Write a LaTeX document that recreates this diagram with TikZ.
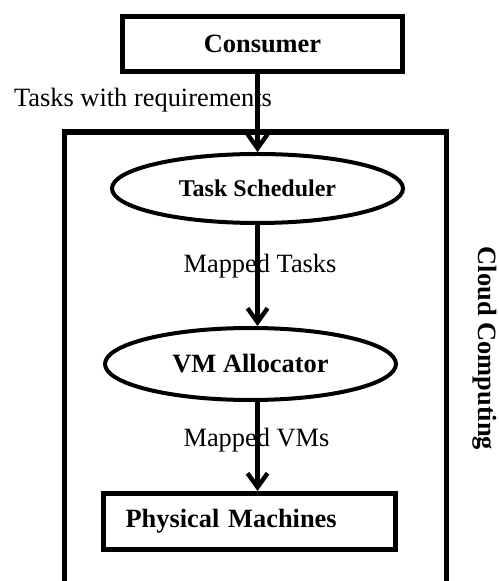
\documentclass[tikz,border=0pt]{standalone}
\usepackage{fontspec}
\setmainfont{Liberation Serif}
\usetikzlibrary{shapes.geometric,arrows.meta}

\begin{document}
\begin{tikzpicture}[x=0.5pt, y=-0.5pt,
  font=\fontsize{13.2}{15}\selectfont,
  box/.style={rectangle, draw, line width=2.5pt, font=\fontsize{13.2}{15}\selectfont\bfseries},
  oval/.style={ellipse, draw, line width=2pt, inner sep=0pt, font=\fontsize{13.2}{15}\selectfont\bfseries},
  flow/.style={-{Straight Barb[length=7pt,width=10pt]}, line width=2.2pt}]
  \useasboundingbox (0,0) rectangle (498,581);

  % Frame
  \draw[line width=2.7pt] (64.5,590) -- (64.5,132) -- (446.5,132) -- (446.5,590);

  % Nodes
  \node[box, minimum width=140pt, minimum height=27.5pt] (consumer) at (262.5,44) {Consumer};
  \node[oval, minimum width=145.5pt, minimum height=34.5pt, font=\fontsize{12}{14}\selectfont\bfseries] (sched) at (257.5,188.5) {Task Scheduler};
  \node[oval, minimum width=145.5pt, minimum height=36pt] (alloc) at (250.5,364) {VM Allocator};
  \node[box, minimum height=27.75pt, text width=124pt, inner xsep=11pt, align=left] (pm) at (249.5,521.25) {Physical Machines};
  \node[rotate=-90, font=\fontsize{13.2}{15}\selectfont\bfseries] (cloud) at (485,348.5) {Cloud Computing};

  % Labels
  \node (req) at (143,100) {Tasks with requirements};
  \node (mtasks) at (260,266) {Mapped Tasks};
  \node (mvms) at (256.5,440) {Mapped VMs};

  % Edges
  \draw[flow] (sched.north |- consumer.south) -- (sched.north);
  \draw[flow] (sched.south) -- (sched.south |- alloc.north);
  \draw[flow] (sched.south |- alloc.south) -- (sched.south |- pm.north);
\end{tikzpicture}
\end{document}
